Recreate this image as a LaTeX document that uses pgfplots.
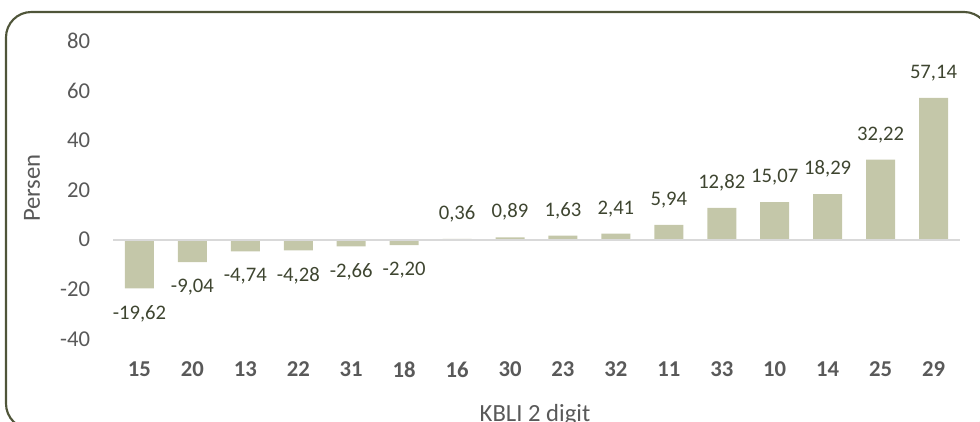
\documentclass[border=0pt]{standalone}
\usepackage{pgfplots}
\pgfplotsset{compat=1.18}
\usepackage{fontspec}
\setmainfont{Carlito}
\definecolor{barc}{HTML}{C4C7A9}
\definecolor{framec}{HTML}{4F5539}
\definecolor{labc}{HTML}{3E4530}
\definecolor{tickc}{HTML}{595959}
\definecolor{zeroc}{HTML}{D9D9D9}
\begin{document}
\begin{tikzpicture}
\path[use as bounding box] (0,0) rectangle (735pt,315.75pt);
\begin{scope}
\clip (0,0) rectangle (735pt,315.75pt);
\draw[framec, line width=1.6pt, rounded corners=19pt] (4.5pt,-6pt) rectangle (742pt,306.75pt);
\end{scope}
\begin{axis}[
  at={(84.75pt,61.5pt)}, anchor=south west, scale only axis,
  width=635.25pt, height=223.5pt,
  ymin=-40, ymax=80, ytick={-40,-20,0,20,40,60,80},
  xmin=-0.5, xmax=15.5, xtick={0,...,15},
  xticklabels={15,20,13,22,31,18,16,30,23,32,11,33,10,14,25,29},
  axis line style={draw=none}, major tick length=0pt,
  /pgf/number format/assume math mode=true,
  yticklabel style={anchor=east, inner sep=0pt, xshift=-17pt, font=\fontsize{17}{19}\selectfont, color=tickc},
  xticklabel style={anchor=north, inner sep=0pt, yshift=-17pt, font=\fontsize{17}{19}\selectfont\bfseries, color=tickc},
  ybar, bar width=21.75pt, bar shift=0pt,
  clip=false,
]
\addplot[fill=barc, draw=none,
  nodes near coords={\pgfmathprintnumber[fixed,fixed zerofill,precision=2,use comma,assume math mode=true]{\pgfplotspointmeta}},
  every node near coord/.append style={font=\fontsize{15.5}{17}\selectfont, color=labc, inner ysep=12.5pt, inner xsep=0pt},
] coordinates {
(0,-19.62) (1,-9.04) (2,-4.74) (3,-4.28) (4,-2.66) (5,-2.20) (6,0.36) (7,0.89)
(8,1.63) (9,2.41) (10,5.94) (11,12.82) (12,15.07) (13,18.29) (14,32.22) (15,57.14)
};
\draw[zeroc, line width=1.5pt] (axis cs:-0.5,0) -- (axis cs:15.5,0);
\end{axis}
\node[rotate=90, color=tickc, font=\fontsize{18.5}{20}\selectfont] at (24pt,174.75pt) {Persen};
\node[anchor=base, color=tickc, font=\fontsize{18.5}{20}\selectfont] at (401.25pt,0pt) {KBLI 2 digit};
\end{tikzpicture}
\end{document}
